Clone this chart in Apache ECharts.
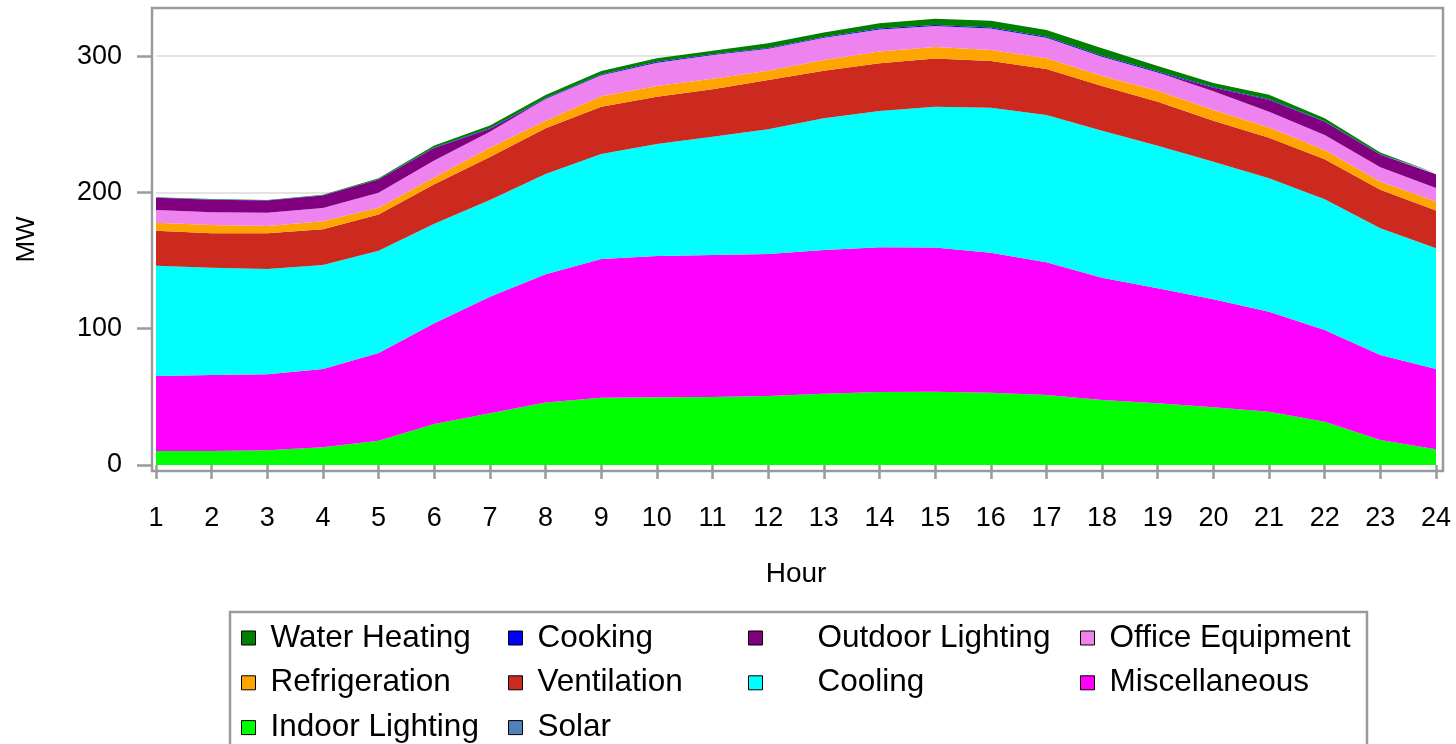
<!DOCTYPE html>
<html>
<head>
<meta charset="utf-8">
<script src="https://cdn.jsdelivr.net/npm/echarts@6/dist/echarts.min.js"></script>
<style>
html,body{margin:0;padding:0;background:#fff;}
#chart{width:1456px;height:744px;}
</style>
</head>
<body>
<div id="chart"></div>
<script>
const hours = ['1','2','3','4','5','6','7','8','9','10','11','12','13','14','15','16','17','18','19','20','21','22','23','24'];
const yTicks = [0, 100, 200, 300];

const indoorLighting = [10.3,10.3,10.8,13.0,17.8,30.1,37.9,45.8,49.4,49.7,49.9,50.6,52.3,53.6,53.8,53.0,51.4,47.7,45.3,42.3,39.1,31.8,18.3,11.5];
const miscellaneous  = [55.0,55.7,55.7,57.4,64.4,73.9,85.6,94.1,101.7,103.6,104.2,104.2,105.4,106.1,105.7,102.8,97.3,89.7,84.3,79.3,73.4,67.2,62.4,58.9];
const cooling        = [80.9,78.8,77.3,76.3,75.0,73.0,70.9,73.6,77.1,82.2,86.8,91.5,96.7,100.0,103.4,106.3,108.1,107.9,104.7,100.9,97.8,95.9,93.0,88.6];
const ventilation    = [25.7,25.2,26.2,26.2,26.6,29.0,31.6,33.5,34.7,34.7,34.7,36.2,34.9,35.0,35.3,34.3,33.7,32.8,32.2,30.1,29.8,29.4,28.3,27.8];
const refrigeration  = [5.9,6.1,5.3,5.9,4.9,5.0,6.8,5.6,7.6,7.9,7.8,6.8,7.8,8.6,8.5,8.1,7.9,7.3,8.1,7.9,7.6,6.8,5.8,6.6];
const officeEquipment= [9.3,9.3,9.8,9.8,11.1,12.5,11.7,15.9,15.4,17.1,17.4,16.1,16.4,16.3,15.4,15.8,15.1,14.2,13.4,13.8,11.5,11.0,10.7,9.9];
const outdoorLighting= [8.9,9.2,8.9,9.1,9.6,9.0,2.0,0,0,0,0,0,0,0,0,0,0,0,0,2.5,8.6,9.8,9.2,10.1];
const cooking        = [0.2,0.2,0.2,0.2,0.3,0.5,0.5,0.5,0.6,0.6,0.6,0.6,0.6,0.6,0.7,0.7,0.7,0.7,0.7,0.6,0.5,0.4,0.3,0.2];
const waterHeating   = [0.3,0.3,0.3,0.4,0.6,1.5,2.0,2.5,2.6,2.6,2.6,3.4,3.3,3.9,4.7,5.0,4.9,5.4,4.1,2.9,3.4,2.1,1.3,0.4];
const solar          = [0,0,0,0,0,0,0,0,0,0,0,0,0,0,0,0,0,0,0,0,0,0,0,0];

const FONT = 'Liberation Sans, Arial, sans-serif';
const GRAY = '#9a9a9a';

function area(name, data, color) {
  return {
    name: name, type: 'line', stack: 'total', data: data,
    symbol: 'none', showSymbol: false,
    lineStyle: { width: 0, color: color },
    itemStyle: { color: color },
    areaStyle: { color: color, opacity: 1 },
    emphasis: { disabled: true }
  };
}

const series = [
  area('Indoor Lighting', indoorLighting, '#00ff00'),
  area('Miscellaneous', miscellaneous, '#ff00ff'),
  area('Cooling', cooling, '#00ffff'),
  area('Ventilation', ventilation, '#cc2a1e'),
  area('Refrigeration', refrigeration, '#ffa500'),
  area('Office Equipment', officeEquipment, '#ee82ee'),
  area('Outdoor Lighting', outdoorLighting, '#800080'),
  area('Cooking', cooking, '#0000ff'),
  area('Water Heating', waterHeating, '#008000'),
  {
    name: 'Solar', type: 'line', data: solar, symbol: 'none', showSymbol: false,
    lineStyle: { width: 0, color: '#4f81bd' }, itemStyle: { color: '#4f81bd' },
    z: 1,
    markLine: {
      silent: true, symbol: 'none', z: 1,
      label: { show: false },
      lineStyle: { color: '#e4e4e4', width: 2, type: 'solid' },
      data: yTicks.filter(v => v > 0).map(v => ({ yAxis: v }))
    }
  }
];

function legendCol(names, left, padLeft) {
  return {
    data: names, orient: 'vertical', left: left, top: 622, height: 200, padding: 0,
    itemGap: 12.8, itemWidth: 14, itemHeight: 14, icon: 'rect',
    itemStyle: { borderColor: '#000', borderWidth: 1 },
    selectedMode: false,
    textStyle: { fontFamily: FONT, fontSize: 31.5, color: '#000', lineHeight: 30, padding: [0, 0, 0, padLeft] }
  };
}

const chart = echarts.init(document.getElementById('chart'), null, { renderer: 'canvas' });
chart.setOption({
  animation: false,
  backgroundColor: '#fff',
  grid: { left: 156, right: 20, top: 8, bottom: 273, containLabel: false },
  xAxis: {
    type: 'category', data: hours, boundaryGap: false,
    name: 'Hour', nameLocation: 'middle', nameGap: 89,
    nameTextStyle: { fontFamily: FONT, fontSize: 28, color: '#000' },
    axisLine: { show: false },
    axisTick: { show: true, length: 14, lineStyle: { color: GRAY, width: 2.5 } },
    axisLabel: { fontFamily: FONT, fontSize: 27, color: '#000', margin: 34, interval: 0 },
    splitLine: { show: false }
  },
  yAxis: {
    type: 'value', min: -4.4, max: 335.3, offset: 4,
    name: 'MW', nameLocation: 'middle', nameGap: 112,
    nameTextStyle: { fontFamily: FONT, fontSize: 26, color: '#000' },
    axisLine: { show: false },
    axisTick: { show: true, length: 15, customValues: yTicks, lineStyle: { color: GRAY, width: 2.5 } },
    axisLabel: { fontFamily: FONT, fontSize: 27, color: '#000', margin: 30, customValues: yTicks },
    splitLine: { show: false }
  },
  legend: [
    legendCol(['Water Heating', 'Refrigeration', 'Indoor Lighting'], 241, 10),
    legendCol(['Cooking', 'Ventilation', 'Solar'], 508, 10),
    legendCol(['Outdoor Lighting', 'Cooling'], 748, 50),
    legendCol(['Office Equipment', 'Miscellaneous'], 1080, 10)
  ],
  graphic: [
    { type: 'rect', z: 100, silent: true, shape: { x: 152, y: 8, width: 1291, height: 463 },
      style: { fill: 'none', stroke: GRAY, lineWidth: 2.5 } },
    { type: 'rect', z: 100, silent: true, shape: { x: 230, y: 612, width: 1137, height: 150 },
      style: { fill: 'none', stroke: GRAY, lineWidth: 2.5 } }
  ],
  series: series
});
</script>
</body>
</html>
